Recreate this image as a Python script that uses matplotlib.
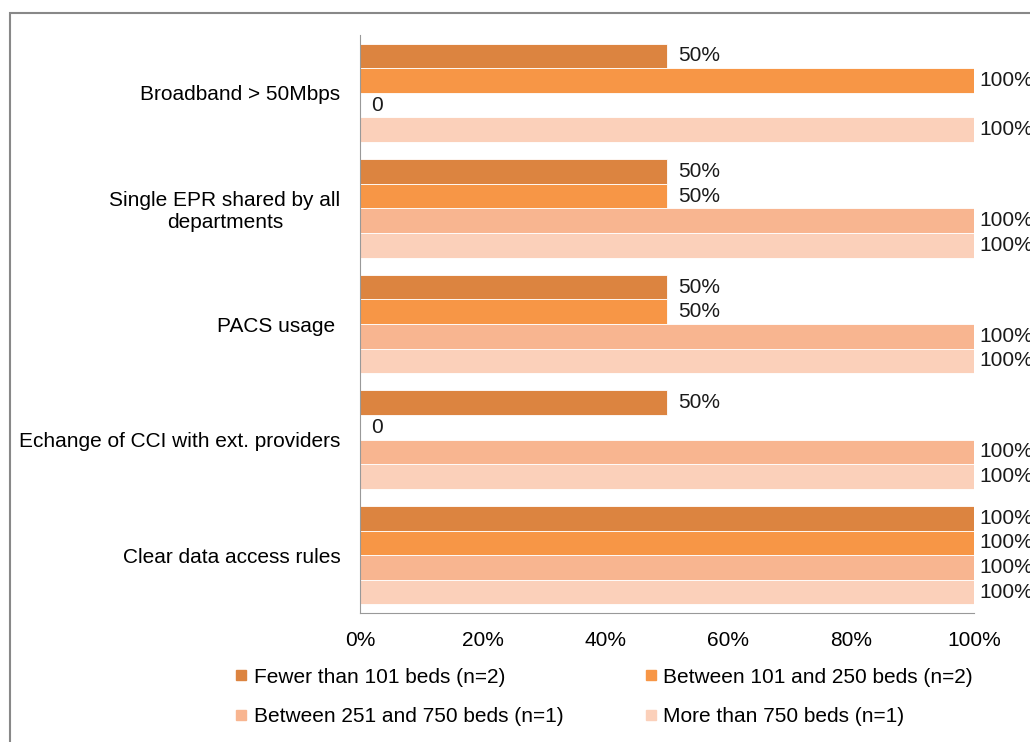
import numpy as np
import matplotlib
matplotlib.use("Agg")
import matplotlib.pyplot as plt
from matplotlib.lines import Line2D
from matplotlib.patches import Rectangle
from matplotlib.ticker import PercentFormatter

plt.rcParams['font.family'] = ['Liberation Sans', 'DejaVu Sans']

categories = ['Broadband > 50Mbps', 'Single EPR shared by all\ndepartments',
              'PACS usage ', 'Echange of CCI with ext. providers',
              'Clear data access rules']
series = ['Fewer than 101 beds (n=2)', 'Between 101 and 250 beds (n=2)',
          'Between 251 and 750 beds (n=1)', 'More than 750 beds (n=1)']
fewer_101 = [50, 50, 50, 50, 100]
b101_250 = [100, 50, 50, 0, 100]
b251_750 = [0, 100, 100, 100, 100]
more_750 = [100, 100, 100, 100, 100]
values = [fewer_101, b101_250, b251_750, more_750]
colors = ['#DC8440', '#F79646', '#F8B590', '#FBD0BA']
FS = 15

fig = plt.figure(figsize=(10.3, 7.42), dpi=100)
fig.patches.append(Rectangle((10 / 1030, -0.1), 1.2, 1 - 13 / 742 + 0.1,
                             transform=fig.transFigure, fill=False,
                             edgecolor='#888888', lw=1.5))
ax = fig.add_axes([360 / 1030, 1 - 613 / 742, 614 / 1030, 578 / 742])

n = len(categories)
h = 0.2125
ypos = np.arange(n)[::-1]
for i, (vals, c) in enumerate(zip(values, colors)):
    y = ypos + 0.425 - h * (i + 0.5)
    bars = ax.barh(y, vals, height=h, color=c, edgecolor='white', lw=0.6)
    # excel puts the short labels a bit further from the bar end
    full = ['%d%%' % v if v == 100 else '' for v in vals]
    short = ['' if v == 100 else ('0' if v == 0 else '%d%%' % v) for v in vals]
    ax.bar_label(bars, labels=full, padding=4, fontsize=FS, color='#1a1a1a')
    ax.bar_label(bars, labels=short, padding=8, fontsize=FS, color='#1a1a1a')

ax.set_xlim(0, 100)
ax.set_ylim(-0.5, n - 0.5)
ax.set_yticks(ypos)
ax.set_yticklabels(categories, fontsize=FS, multialignment='center')
ax.xaxis.set_major_formatter(PercentFormatter(decimals=0))
ax.set_xticks(np.arange(0, 101, 20))
ax.tick_params(axis='x', length=0, pad=13, labelsize=FS)
ax.tick_params(axis='y', length=0, pad=14)
for s in ['top', 'right']:
    ax.spines[s].set_visible(False)
for s in ['left', 'bottom']:
    ax.spines[s].set_color('#999999')

# legend fills by column, so reorder to read row-wise like the original
order = [0, 2, 1, 3]
handles = [Line2D([], [], marker='s', ls='none', markersize=7, color=colors[k]) for k in order]
fig.legend(handles, [series[k] for k in order], ncol=2, loc='center left',
           bbox_to_anchor=(216 / 1030, 1 - 697 / 742), frameon=False,
           fontsize=FS, handlelength=0.6, handletextpad=0.3,
           columnspacing=3.9, labelspacing=1.0)

plt.savefig('out.png', dpi=100)
